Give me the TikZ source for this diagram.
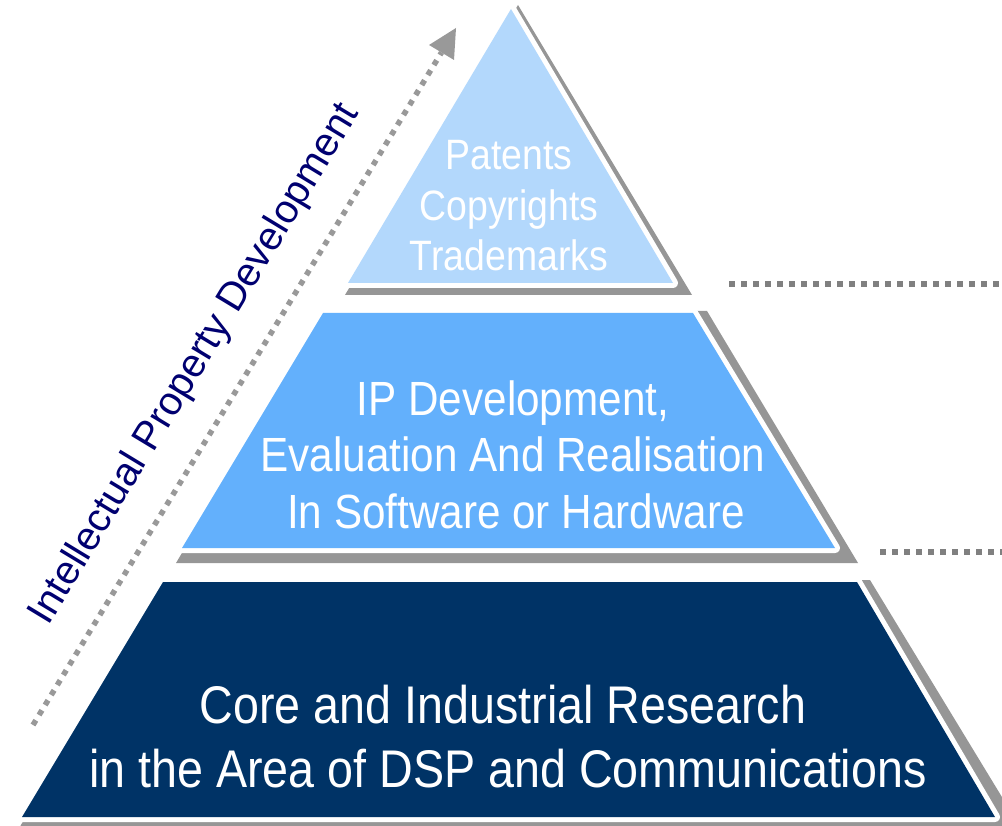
\documentclass[tikz,border=0pt]{standalone}
\usepackage{fontspec}
\setmainfont{Liberation Sans}
\newfontfamily\narrowfont[FakeStretch=0.88]{Liberation Sans}
\definecolor{topblue}{HTML}{B3D8FC}
\definecolor{midblue}{HTML}{63B0FC}
\definecolor{navyfill}{HTML}{003366}
\definecolor{shadowgray}{HTML}{969696}
\definecolor{arrowgray}{HTML}{999999}
\definecolor{dotgray}{HTML}{808080}
\definecolor{labelnavy}{HTML}{000070}
\begin{document}
\begin{tikzpicture}[x=1pt,y=-1pt,
  shadowshape/.style={fill=shadowgray},
  layershape/.style={fill=#1, preaction={draw=white, line width=10pt, line join=round}},
  lvltext/.style={anchor=base, inner sep=0pt, text=white, font=\narrowfont\fontsize{#1}{#1}\selectfont},
  sidelabel/.style={anchor=base, inner sep=0pt, text=labelnavy, rotate=58.8, font=\fontsize{40pt}{40pt}\selectfont},
  dotarrow/.style={draw=arrowgray, line width=5.5pt, dash pattern=on 5.5pt off 6.2pt},
  rightdots/.style={draw=dotgray, line width=6pt, dash pattern=on 6pt off 6pt}]
\useasboundingbox (0,0) rectangle (1002,826);
\clip (0,0) rectangle (1002,826);

% bottom layer
\fill[shadowshape] (165,580) -- (870,580) -- (1022,830) -- (18,830) -- cycle;
\path[layershape=navyfill] (163,582) -- (857,582) -- (995,817) -- (22,817) -- cycle;

% middle layer
\fill[shadowshape] (327,311) -- (707,311) -- (858,563) -- (176,563) -- cycle;
\path[layershape=midblue] (323,313) -- (693,313) -- (835,548) -- (182,548) -- cycle;

% top layer
\fill[shadowshape] (518,5) -- (692,295) -- (345,295) -- cycle;
\path[layershape=topblue] (511,9) -- (673,283) -- (348,283) -- cycle;

% texts
\node[lvltext=42.5pt] (patents) at (509,169.5) {Patents};
\node[lvltext=42.5pt] (copyrights) at (509,220.5) {Copyrights};
\node[lvltext=42.5pt] (trademarks) at (509,271) {Trademarks};

\node[lvltext=48pt] (ipdev) at (513,415) {IP Development,};
\node[lvltext=48pt] (evalreal) at (513,471.5) {Evaluation And Realisation};
\node[lvltext=48pt] (swhw) at (516,528.5) {In Software or Hardware};

\node[lvltext=53pt] (coreres) at (503,723.3) {Core and Industrial Research};
\node[lvltext=53pt] (dspcomm) at (508,787) {in the Area of DSP and Communications};

% dotted arrow and side label
\coordinate (arrTail) at (33,725);
\coordinate (arrBase) at (441.5,52.5);
\coordinate (arrTip) at (456,28);
\coordinate (arrLeft) at (429,45);
\coordinate (arrRight) at (454,60);
\draw[dotarrow] (arrTail) -- (arrBase);
\fill[arrowgray] (arrTip) -- (arrLeft) -- (arrRight) -- cycle;
\node[sidelabel] (iplabel) at (204,370) {Intellectual Property Development};

% right dotted lines
\coordinate (dotsTopStart) at (729,284);
\coordinate (dotsTopEnd) at (1010,284);
\coordinate (dotsMidStart) at (880,552);
\coordinate (dotsMidEnd) at (1010,552);
\draw[rightdots] (dotsTopStart) -- (dotsTopEnd);
\draw[rightdots] (dotsMidStart) -- (dotsMidEnd);
\end{tikzpicture}
\end{document}
